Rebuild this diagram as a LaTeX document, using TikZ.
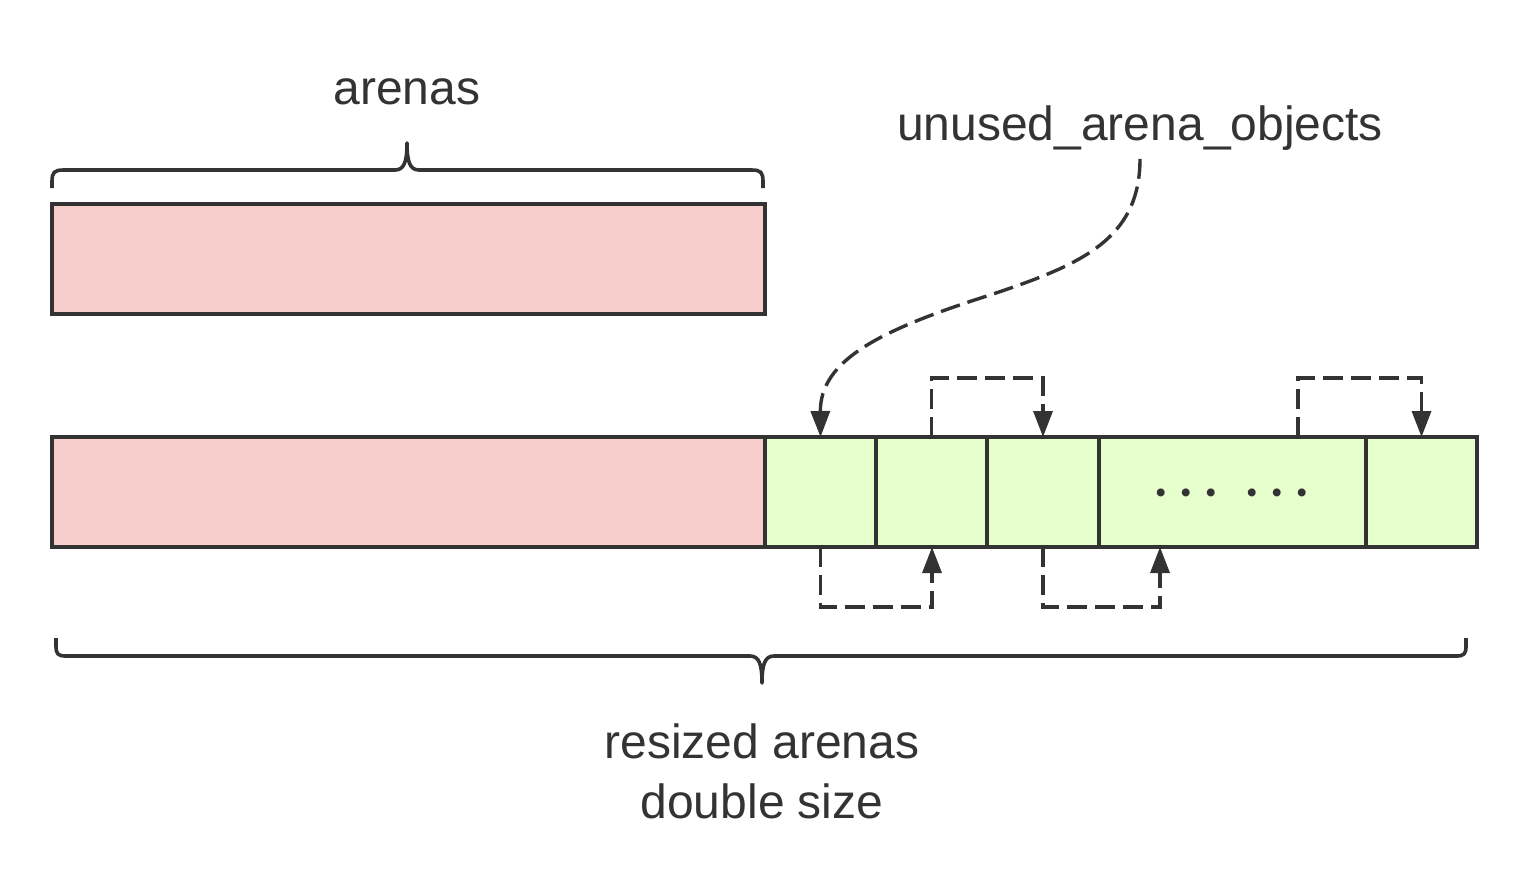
\documentclass[tikz,border=0pt]{standalone}
\usepackage{fontspec}
\setmainfont{Liberation Sans}
\newfontfamily\dotfont{Poppins}
\usetikzlibrary{arrows.meta,calc}
\definecolor{ink}{HTML}{333333}
\definecolor{pinkfill}{HTML}{F8CECC}
\definecolor{greenfill}{HTML}{E6FFCC}
\begin{document}
\begin{tikzpicture}[x=0.5pt,y=-0.5pt,
  box/.style={draw=ink, line width=1.8pt, inner sep=0pt, outer sep=0pt, minimum height=55pt},
  pinkbox/.style={box, fill=pinkfill, minimum width=356.5pt},
  cellbox/.style={box, fill=greenfill},
  label/.style={text=ink, font=\fontsize{24}{30}\selectfont, inner sep=4pt},
  link/.style={draw=ink, line width=1.7pt, dash pattern=on 10pt off 4pt,
    -{Triangle[length=13pt,width=9.5pt]}},
  bracepath/.style={draw=ink, line width=1.8pt, line join=round}
]
\useasboundingbox (0,0) rectangle (1524,880);
\fill[white] (0,0) rectangle (1524,880);

% rectangles
\node[pinkbox] (old) at (408.5,259) {};
\node[pinkbox] (new) at (408.5,492) {};
\node[cellbox, minimum width=55.5pt] (c1) at (820.5,492) {};
\node[cellbox, minimum width=55.5pt] (c2) at (931.5,492) {};
\node[cellbox, minimum width=56pt]   (c3) at (1043,492) {};
\node[cellbox, minimum width=133.5pt] (c4) at (1232.5,492) {};
\node[cellbox, minimum width=55.5pt] (c5) at (1421.5,492) {};

\node[text=ink, font=\dotfont\fontsize{32}{32}\selectfont, anchor=base, inner sep=0pt] (dots) at (1232,496)
  {\makebox[12.5pt]{.}\makebox[12.5pt]{.}\makebox[12.5pt]{.}\hspace{8pt}\makebox[12.5pt]{.}\makebox[12.5pt]{.}\makebox[12.5pt]{.}};

% labels
\node[label] (arenas) at (407,92) {arenas};
\node[label] (uo) at (1140,128) {unused\_arena\_objects};
\node[label, align=center] (resized) at (762,771) {resized arenas\\double size};

% braces
\draw[bracepath] (52,188) -- (52,182) .. controls (52,172) and (54,170) .. (64,170)
  -- (395,170) .. controls (404,170) and (407,162) .. (407,143)
  .. controls (407,162) and (410,170) .. (419,170)
  -- (751,170) .. controls (761,170) and (763,172) .. (763,182) -- (763,188);
\draw[bracepath] (56,638) -- (56,646) .. controls (56,654) and (58,656) .. (66,656)
  -- (750,656) .. controls (759,656) and (762,664) .. (762,683)
  .. controls (762,664) and (765,656) .. (774,656)
  -- (1456,656) .. controls (1464,656) and (1466,654) .. (1466,646) -- (1466,638);

% curved pointer
\draw[link] (uo.south) .. controls (1140,240) and (1080,265) .. (990,295)
  .. controls (880,330) and (820,360) .. (c1.north);

% free-list links above
\draw[link] (c2.north) -- ++(0,-59) -| (c3.north);
\draw[link] ($(c4.north)+(65.5,0)$) -- ++(0,-59) -| (c5.north);
% free-list links below
\draw[link] (c1.south) -- ++(0,60) -| ($(c2.south)+(0.5,0)$);
\draw[link] (c3.south) -- ++(0,60) -| ($(c4.south)+(-72.5,0)$);
\end{tikzpicture}
\end{document}
